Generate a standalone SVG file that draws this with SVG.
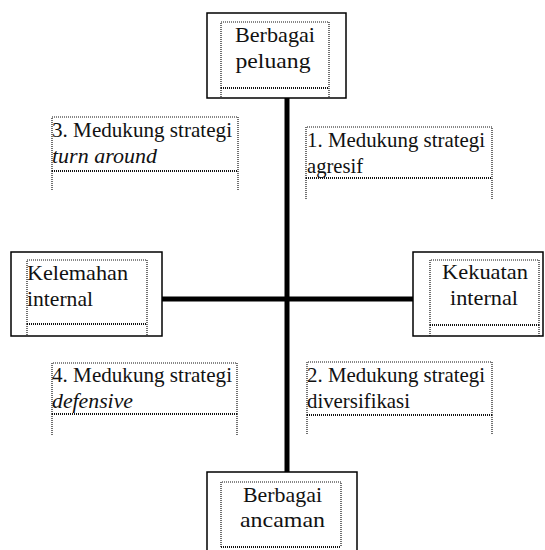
<svg xmlns="http://www.w3.org/2000/svg" width="545" height="550" viewBox="0 0 545 550">
<style>
.outer{fill:#fff;stroke:#000;stroke-width:1.5}
.dot{fill:none;stroke:#111;stroke-width:1.2;stroke-dasharray:1 1}
.dotb{fill:none;stroke:#111;stroke-width:2;stroke-dasharray:1 1}
.t{font-family:"Liberation Serif","Times New Roman",serif;font-size:21px;fill:#111}
.i{font-style:italic}
.c{text-anchor:middle}
.axis{stroke:#000;stroke-width:5}
</style>
<rect width="545" height="550" fill="#fff"/>
<g id="connectors">
<line class="axis" x1="287" y1="98" x2="287" y2="472"/>
<line class="axis" x1="162" y1="299" x2="413" y2="299"/>
</g>
<g id="top">
<rect class="outer" x="207" y="13" width="139" height="85"/>
<path class="dot" d="M221 88V22H329V88M221 88V97M329 88V97"/>
<line class="dotb" x1="221" y1="88" x2="329" y2="88"/>
<text class="t c" x="275" y="42" textLength="80" lengthAdjust="spacingAndGlyphs">Berbagai</text>
<text class="t c" x="273" y="68" textLength="75" lengthAdjust="spacingAndGlyphs">peluang</text>
</g>
<g id="bottom">
<rect class="outer" x="207" y="472" width="150" height="82"/>
<path class="dot" d="M221 547V482H341V547"/>
<line class="dotb" x1="221" y1="547" x2="341" y2="547"/>
<text class="t c" x="282.5" y="502" textLength="79" lengthAdjust="spacingAndGlyphs">Berbagai</text>
<text class="t c" x="282.5" y="527" textLength="85" lengthAdjust="spacingAndGlyphs">ancaman</text>
</g>
<g id="left">
<rect class="outer" x="11" y="252" width="151" height="84"/>
<path class="dot" d="M27 324V260H147V324M27 324V336M147 324V336"/>
<line class="dotb" x1="27" y1="324" x2="147" y2="324"/>
<text class="t" x="27" y="280" textLength="101" lengthAdjust="spacingAndGlyphs">Kelemahan</text>
<text class="t" x="27" y="306" textLength="66" lengthAdjust="spacingAndGlyphs">internal</text>
</g>
<g id="right">
<rect class="outer" x="413" y="252" width="130" height="84"/>
<path class="dot" d="M430 325V260H539V325M430 325V336M539 325V336"/>
<line class="dotb" x1="430" y1="325" x2="539" y2="325"/>
<text class="t c" x="485" y="279" textLength="86" lengthAdjust="spacingAndGlyphs">Kekuatan</text>
<text class="t c" x="484" y="305" textLength="68" lengthAdjust="spacingAndGlyphs">internal</text>
</g>
<g id="q3">
<path class="dot" d="M52 171V117H238V171M52 171V190M238 171V190"/>
<line class="dotb" x1="52" y1="171" x2="238" y2="171"/>
<text class="t" x="52" y="137" textLength="180" lengthAdjust="spacingAndGlyphs">3. Medukung strategi</text>
<text class="t i" x="52" y="163" textLength="105" lengthAdjust="spacingAndGlyphs">turn around</text>
</g>
<g id="q1">
<path class="dot" d="M306 178V127H492V178M306 178V200M492 178V200"/>
<line class="dotb" x1="306" y1="178" x2="492" y2="178"/>
<text class="t" x="307" y="147" textLength="178" lengthAdjust="spacingAndGlyphs">1. Medukung strategi</text>
<text class="t" x="307" y="173" textLength="56" lengthAdjust="spacingAndGlyphs">agresif</text>
</g>
<g id="q4">
<path class="dot" d="M52 414V363H237V414M52 414V435M237 414V435"/>
<line class="dotb" x1="52" y1="414" x2="237" y2="414"/>
<text class="t" x="52" y="382" textLength="180" lengthAdjust="spacingAndGlyphs">4. Medukung strategi</text>
<text class="t i" x="52" y="408" textLength="81" lengthAdjust="spacingAndGlyphs">defensive</text>
</g>
<g id="q2">
<path class="dot" d="M307 415V362H492V415M307 415V435M492 415V435"/>
<line class="dotb" x1="307" y1="415" x2="492" y2="415"/>
<text class="t" x="307" y="382" textLength="178" lengthAdjust="spacingAndGlyphs">2. Medukung strategi</text>
<text class="t" x="307" y="408" textLength="103" lengthAdjust="spacingAndGlyphs">diversifikasi</text>
</g>
</svg>
